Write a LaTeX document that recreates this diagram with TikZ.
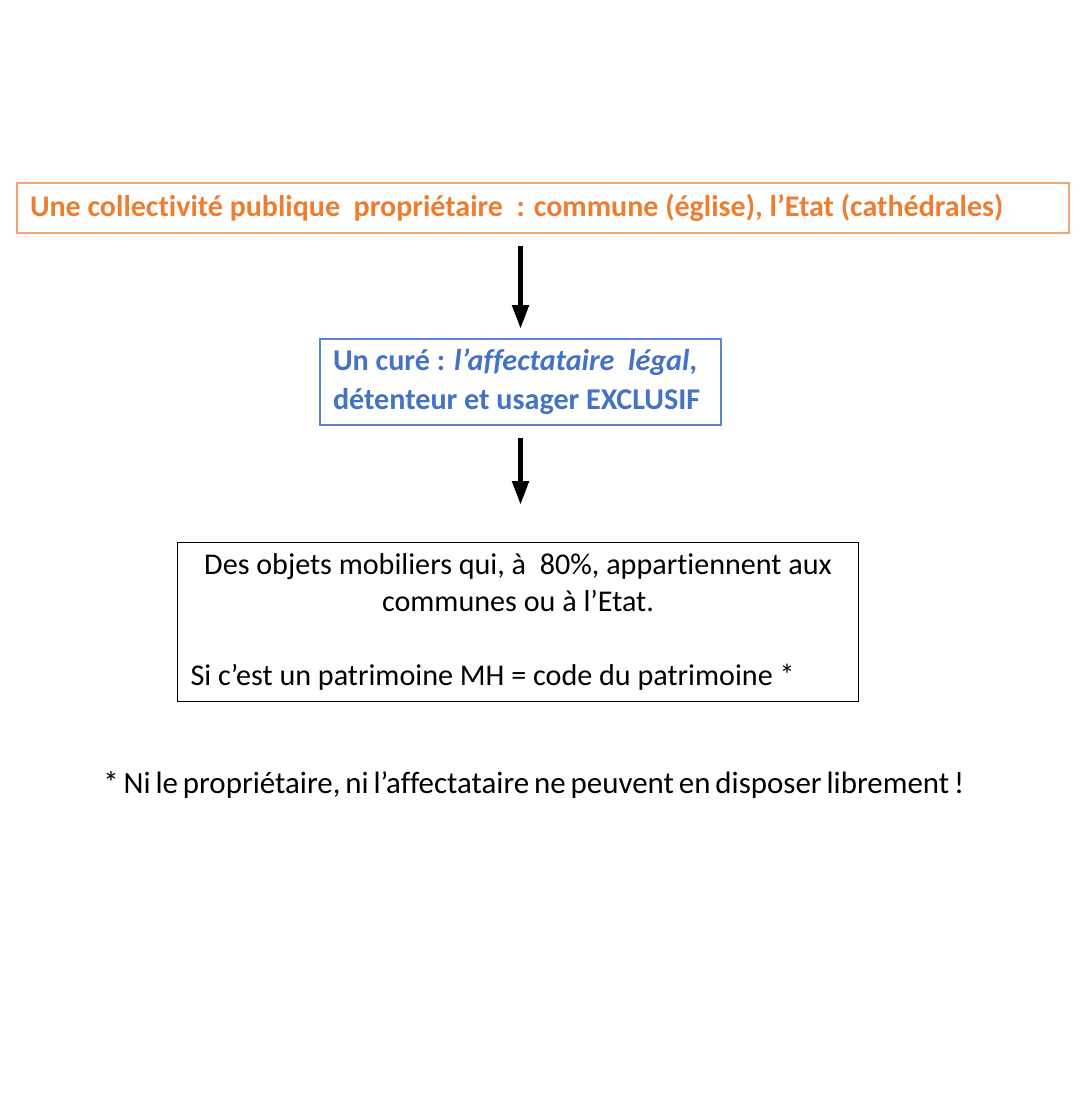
\documentclass[tikz,border=0pt]{standalone}
\usepackage{fontspec}
\setmainfont{Carlito}[Ligatures=NoCommon]
\newfontfamily\tightfont{Carlito}[Ligatures=NoCommon, WordSpace={0.7}]
\usetikzlibrary{arrows.meta}
\definecolor{orng}{HTML}{ED7D31}
\definecolor{orngline}{HTML}{F4A46E}
\definecolor{blu}{HTML}{4472C4}
\definecolor{bluline}{HTML}{5B85D0}
\newcommand{\pu}{0.75pt}
\begin{document}
\begin{tikzpicture}[x=0.75pt,y=-0.75pt,
  basebox/.style={rectangle, anchor=north west, inner ysep=0pt, inner xsep=13*\pu, align=flush left},
  obox/.style={basebox, draw=orngline, line width=2*\pu, text=orng, font=\bfseries\fontsize{22.5pt}{26pt}\selectfont},
  bbox/.style={basebox, draw=bluline, line width=2*\pu, text=blu, font=\bfseries\fontsize{22.6pt}{29.2pt}\selectfont},
  kbox/.style={basebox, draw=black, line width=1*\pu, text=black, font=\fontsize{22.6pt}{27.75pt}\selectfont},
  arr/.style={line width=5*\pu, -{Triangle[width=16*\pu, length=24*\pu]}}
]
\useasboundingbox (0,0) rectangle (1079,1102);
\node[obox, minimum width=1052*\pu, minimum height=50*\pu, text width=1026*\pu] (own) at (16,182)
  {Une collectivité publique\ \ propriétaire\ \ : commune (église), l’Etat (cathédrales)};
\node[bbox, minimum width=401*\pu, minimum height=86*\pu, text width=375*\pu] (cur) at (319,338)
  {Un curé : \textit{l’affectataire\ \ légal},\\détenteur et usager EXCLUSIF};
\node[kbox, minimum width=681*\pu, minimum height=159*\pu, text width=655*\pu] (obj) at (177,542)
  {{\centering Des objets mobiliers qui, à\ \ 80\%, appartiennent aux\\communes ou à l’Etat.\\\mbox{}\par}%
   Si c’est un patrimoine MH = code du patrimoine *};
\node[anchor=base west, inner sep=0pt, font=\tightfont\fontsize{23.2pt}{27pt}\selectfont] (note) at (103,793)
  {* Ni le propriétaire, ni l’affectataire ne peuvent en disposer librement !};
\draw[arr] ([yshift=-12*\pu]own.south -| cur.north) -- ([yshift=9*\pu]cur.north);
\draw[arr] ([yshift=-12*\pu]cur.south) -- ([yshift=37*\pu]obj.north -| cur.south);
\end{tikzpicture}
\end{document}
